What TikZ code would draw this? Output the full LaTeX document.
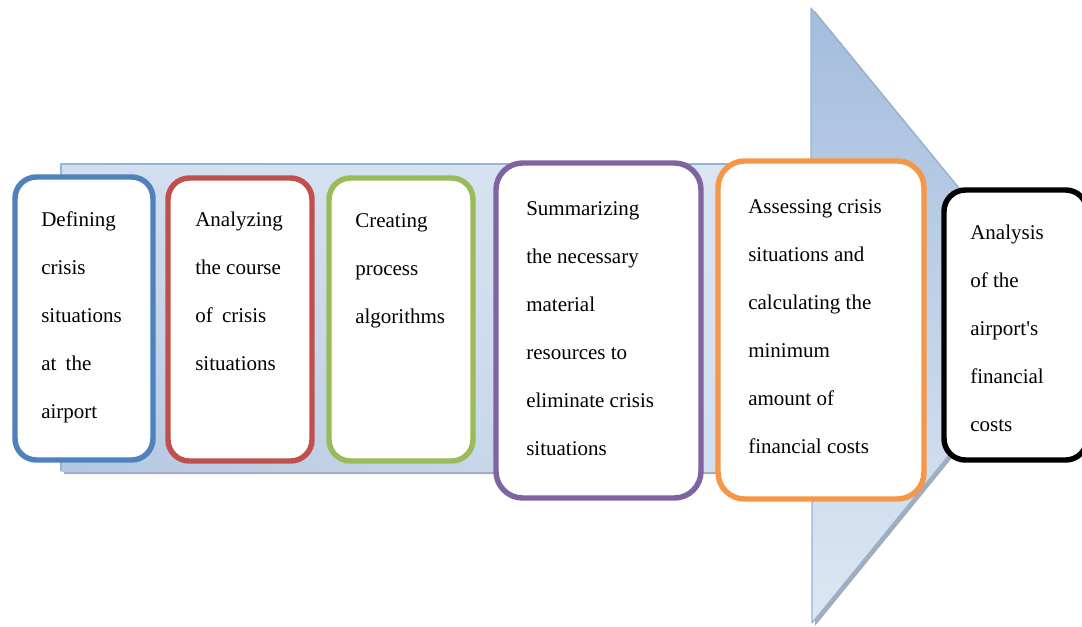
\documentclass[tikz,border=0pt]{standalone}
\usepackage{fontspec}
\usetikzlibrary{shadings}
\setmainfont{Liberation Serif}[Ligatures=TeXOff]
\definecolor{cBlue}{HTML}{4F81BD}
\definecolor{cRed}{HTML}{C0504D}
\definecolor{cGreen}{HTML}{9BBB59}
\definecolor{cPurple}{HTML}{8064A2}
\definecolor{cOrange}{HTML}{F79646}
\definecolor{arEdge}{HTML}{95B3D7}
\definecolor{arShadow}{HTML}{A3ACBA}
\definecolor{shLL}{HTML}{B3C7E1}
\definecolor{shUL}{HTML}{D2DEEF}
\definecolor{shLR}{HTML}{D6E2F0}
\definecolor{shUR}{HTML}{DCE6F2}
\definecolor{hdTop}{HTML}{A4BDDD}
\definecolor{hdBot}{HTML}{DDE7F3}
\newcommand{\boxtext}[1]{\parbox[t]{6cm}{\fontsize{15.75pt}{36pt}\selectfont\raggedright #1}}
\tikzset{
  card/.style={draw=#1, fill=white, line width=4.1pt, rectangle, rounded corners=16pt, inner sep=0pt},
  bigcard/.style={card=#1, rounded corners=20pt},
  label/.style={anchor=base west, inner sep=0pt, text=black},
}
\begin{document}
\begin{tikzpicture}[x=0.75pt,y=-0.75pt]
\clip (0,0) rectangle (1082,626);
% shadow
\fill[arShadow] (64,167) -- (815,167) -- (815,11) -- (1066,318) -- (815,626) -- (815,474) -- (64,474) -- cycle;
% shaft
\shade[lower left=shLL, upper left=shUL, lower right=shLR, upper right=shUR] (61,164) rectangle (812,471);
% head
\shade[top color=hdTop, bottom color=hdBot] (811,8) -- (1063,315) -- (812,623) -- cycle;
% outlines
\draw[arEdge, line width=0.9pt, line join=round] (61,471) -- (61,164) -- (811,164);
\draw[arEdge, line width=0.9pt, line join=round] (811,164) -- (811,8) -- (1063,315) -- (812,623) -- (812,471);
% boxes
\node[card=cBlue, minimum width=103.5pt, minimum height=212.25pt] (b1) at (84,318.5) {};
\node[card=cRed, minimum width=108pt, minimum height=212.25pt] (b2) at (240,319.5) {};
\node[card=cGreen, minimum width=108pt, minimum height=212.25pt] (b3) at (401,319.5) {};
\node[bigcard=cPurple, minimum width=153.75pt, minimum height=251.25pt] (b4) at (598.5,330.5) {};
\node[bigcard=cOrange, minimum width=154.5pt, minimum height=253.5pt] (b5) at (821,330) {};
\node[card=black, minimum width=107.25pt, minimum height=202.5pt] (b6) at (1015.5,325) {};
% texts
\node[label] (t1) at (41,226) {\boxtext{Defining\\crisis\\situations\\at\hspace{3pt} the\\airport}};
\node[label] (t2) at (195,226) {\boxtext{Analyzing\\the course\\of\hspace{3pt} crisis\\situations}};
\node[label] (t3) at (355,227) {\boxtext{Creating\\process\\algorithms}};
\node[label] (t4) at (526,215) {\boxtext{Summarizing\\the necessary\\material\\resources to\\eliminate crisis\\situations}};
\node[label] (t5) at (748,213) {\boxtext{Assessing crisis\\situations and\\calculating the\\minimum\\amount of\\financial costs}};
\node[label] (t6) at (970,239) {\boxtext{Analysis\\of the\\airport's\\financial\\costs}};
\end{tikzpicture}
\end{document}
